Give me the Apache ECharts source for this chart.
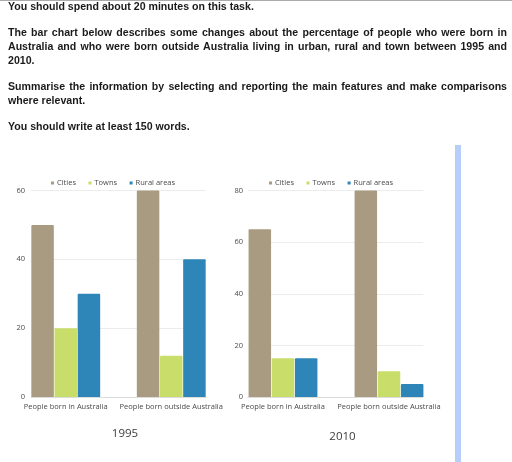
<!DOCTYPE html>
<html><head><meta charset="utf-8">
<style>
html,body{margin:0;padding:0;background:#fff;width:512px;height:462px;overflow:hidden}
#topline{position:absolute;left:0;top:0;width:512px;height:1px;background:#aaa}
#task{position:absolute;left:8px;top:0;width:499px;font:bold 10.6px/13.7px "Liberation Sans",Arial,sans-serif;color:#1a1a1a;text-align:justify}
#task p{margin:0 0 12.6px 0}
#chart{position:absolute;left:0;top:0;width:512px;height:462px}
</style></head><body>
<div id="chart"></div>
<div id="topline"></div>
<div id="task">
<p>You should spend about 20 minutes on this task.</p>
<p>The bar chart below describes some changes about the percentage of people who were born in Australia and who were born outside Australia living in urban, rural and town between 1995 and 2010.</p>
<p>Summarise the information by selecting and reporting the main features and make comparisons where relevant.</p>
<p>You should write at least 150 words.</p>
</div>
<script src="https://cdn.jsdelivr.net/npm/echarts@6/dist/echarts.min.js"></script>
<script>
const categories = ["People born in Australia", "People born outside Australia"];
const seriesNames = ["Cities", "Towns", "Rural areas"];
const cities1995 = [50, 60];
const towns1995 = [20, 12];
const rural1995 = [30, 40];
const cities2010 = [65, 80];
const towns2010 = [15, 10];
const rural2010 = [15, 5];
const colors = ["#A99A82", "#C9DE6A", "#2E86B8"];
const FONT = '"Open Sans"';
const INK = '#4a4a4a';

const chart = echarts.init(document.getElementById('chart'), null, {renderer:'canvas'});
const plotTop = 190.5, plotHeight = 206.5;

function bars(name, data, color, axis){
  return {type:'bar', name, data, xAxisIndex:axis, yAxisIndex:axis, barWidth:22.5, barGap:'3%',
    itemStyle:{color, borderRadius:[1,1,0,0]}, animation:false, silent:true};
}
function bandX(index){
  return {gridIndex:index, type:'category', data:categories,
    axisLine:{show:false}, axisTick:{show:false},
    axisLabel:{interval:0, margin:5.5, fontFamily:FONT, fontSize:7.5, color:INK, hideOverlap:false}};
}
function bandY(index, max, interval){
  return {gridIndex:index, type:'value', min:0, max, interval, show:false};
}
function ruleX(index){
  return {gridIndex:index, type:'value', min:0, max:1,
    axisLine:{show:true, onZero:false, lineStyle:{color:'#dcdcdc', width:1}},
    axisTick:{show:false}, axisLabel:{show:false}, splitLine:{show:false}};
}
function ruleY(index, max, interval, margin){
  return {gridIndex:index, type:'value', min:0, max, interval,
    axisLine:{show:false}, axisTick:{show:false},
    axisLabel:{margin, fontFamily:FONT, fontSize:7.5, color:INK},
    splitLine:{show:true, lineStyle:{color:'#ececec', width:1}}};
}
function legend(left){
  return {data:seriesNames, left, top:174, icon:'rect', itemWidth:3, itemHeight:3, itemGap:12.5,
    textStyle:{fontFamily:FONT, fontSize:7.5, color:INK, padding:[0,0,0,-2]}, selectedMode:false};
}
chart.setOption({
  backgroundColor:'#fff',
  animation:false,
  grid:[
    {left:13, width:211, top:plotTop, height:plotHeight},
    {left:230, width:212, top:plotTop, height:plotHeight},
    {left:31, width:175, top:plotTop, height:plotHeight},
    {left:248, width:175, top:plotTop, height:plotHeight}
  ],
  xAxis:[bandX(0), bandX(1), ruleX(2), ruleX(3)],
  yAxis:[bandY(0,60,20), bandY(1,80,20), ruleY(2,60,20,6), ruleY(3,80,20,5)],
  legend:[legend(46), legend(264)],
  series:[
    bars(seriesNames[0], cities1995, colors[0], 0),
    bars(seriesNames[1], towns1995, colors[1], 0),
    bars(seriesNames[2], rural1995, colors[2], 0),
    bars(seriesNames[0], cities2010, colors[0], 1),
    bars(seriesNames[1], towns2010, colors[1], 1),
    bars(seriesNames[2], rural2010, colors[2], 1)
  ],
  title:[
    {text:'1995', left:120, top:422.5, textAlign:'center', textStyle:{fontFamily:FONT, fontSize:11.5, fontWeight:'normal', color:'#3c3c3c'}},
    {text:'2010', left:337.5, top:425.5, textAlign:'center', textStyle:{fontFamily:FONT, fontSize:11.5, fontWeight:'normal', color:'#3c3c3c'}}
  ],
  graphic:[{type:'rect', silent:true, shape:{x:455, y:145, width:6, height:317}, style:{fill:'#B7CEFB'}}]
});
</script>
</body></html>
